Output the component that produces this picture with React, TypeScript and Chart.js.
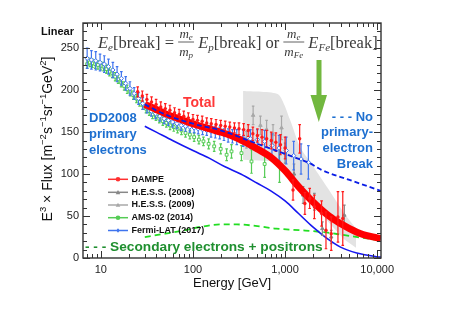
import React, { useEffect, useRef } from "react";
import { Chart, registerables } from "chart.js";

Chart.register(...registerables);

// ---------- axes ----------
const X_MIN = 6.4;
const X_MAX = 11000;
const Y_MIN = 0;
const Y_MAX = 280;
const xTickValues = [10, 100, 1000, 10000];
const xTickLabels = ["10", "100", "1,000", "10,000"];
const yTickValues = [0, 50, 100, 150, 200, 250];

// ---------- data ----------
// AMS-02 (2014)
const amsE = [7.1, 7.6, 8.1, 8.7, 9.3, 10, 10.7, 11.5, 12.4, 13.3, 14.3, 15.4, 16.6, 17.9, 19.3, 20.8, 22.5, 24.3, 26.3, 28.5, 30.9, 33.5, 36.4, 39.6, 43.1, 47, 51.4, 56.3, 61.8, 68, 75, 83, 92.5, 103, 116, 130, 148, 170, 200, 232, 262, 336, 432, 600, 870];
const amsV = [231, 233, 232, 231, 230, 229, 228, 225, 222, 220, 216, 213, 209, 205, 201, 198, 194, 190, 186, 182, 178, 175, 171, 169, 166, 163, 161, 158, 156, 154, 152, 149, 147, 144, 141, 139, 136, 133, 130, 123, 127, 125, 115, 112, 110];
const amsErr = [5, 5, 5, 5, 5, 5, 5, 5, 5, 5, 5, 5, 5, 5, 5, 5, 5, 5, 5, 5, 5, 5, 5, 5, 5, 5, 5, 5, 5, 5, 5, 5, 5, 5, 5, 5, 6, 6, 6, 7, 8, 9, 14, 16, 20];

// Fermi-LAT (2017)
const fermiE = [7.1, 7.9, 8.8, 9.8, 10.9, 12.1, 13.5, 15.0, 16.7, 18.6, 20.7, 23.0, 25.6, 28.5, 31.7, 35.3, 39.3, 43.7, 48.6, 54.1, 60.2, 67.0, 74.5, 82.9, 92.3, 103, 114, 127, 141, 157, 175, 195, 217, 241, 268, 299, 350, 420, 500, 600, 720, 860, 1030, 1240, 1490, 1790];
const fermiV = [238, 236, 235, 233, 231, 228, 224, 219, 214, 208, 202, 196, 190, 184, 179, 175, 172, 169, 166, 164, 162, 160, 158, 157, 156, 155, 154, 153, 152, 151, 150, 149, 147, 146, 145, 144, 143, 142, 141, 139, 134, 131, 128, 122, 118, 114];
const fermiErr = [12, 11, 11, 10, 10, 9, 9, 9, 8, 8, 8, 7, 7, 7, 6, 6, 6, 6, 6, 6, 6, 6, 6, 6, 6, 6, 6, 6, 6, 7, 7, 7, 7, 8, 8, 9, 10, 11, 12, 13, 14, 15, 16, 17, 18, 20];

// DAMPE
const dampeE = [25.1, 28.2, 31.6, 35.5, 39.8, 44.7, 50.1, 56.2, 63.1, 70.8, 79.4, 89.1, 100, 112, 126, 141, 158, 178, 200, 224, 251, 282, 316, 355, 398, 447, 501, 562, 631, 708, 794, 891, 1000, 1220, 1440, 1640, 1850, 2080, 2490, 2780, 3170, 3750, 4230];
const dampeV = [198, 193, 189, 186, 183, 180, 178, 176, 173, 171, 169, 167, 165, 164, 163, 161, 160, 159, 158, 157, 156, 155, 154, 153, 152, 148, 146, 144, 142, 140, 138, 135, 131, 81, 142, 65, 71, 61, 53, 33, 29, 49, 47];
const dampeErr = [6, 6, 6, 6, 6, 6, 6, 6, 6, 6, 6, 6, 6, 6, 6, 6, 6, 6, 6, 6, 6, 6, 7, 7, 7, 8, 8, 9, 10, 10, 11, 12, 13, 12, 17, 13, 12, 14, 15, 22, 20, 30, 32];

// H.E.S.S. (2008)
const hess08E = [1000, 1250, 1570, 2080, 2540, 3170, 4400];
const hess08V = [125, 100, 75, 67, 35, 25, 51];
const hess08Err = [12, 12, 10, 10, 8, 8, 12];

// H.E.S.S. (2009)
const hess09E = [380, 450, 540, 630, 740, 915];
const hess09V = [141, 170, 158, 153, 147, 155];
const hess09Err = [10, 11, 11, 11, 12, 14];

// H.E.S.S. systematic band
const bandE = [350, 840, 1130, 1440, 2000, 3000, 4400, 5900];
const bandUpper = [199, 195, 165, 133, 110, 81, 53, 35];
const bandLower = [117, 115, 100, 85, 65, 42, 22, 12];

// Model curves
const totalE = [30, 40, 50, 70, 100, 150, 200, 300, 400, 500, 700, 1000, 1400, 2000, 3000, 4000, 5000, 7000, 10000, 11000];
const totalV = [183, 177, 172, 166, 160, 154, 150, 143, 136, 130, 120, 104, 85, 67, 50, 41, 35, 28, 24, 23];
const noBreakE = [30, 50, 100, 200, 500, 1000, 1330, 1850, 2480, 5000, 11000];
const noBreakV = [183, 171, 160, 152, 136, 124, 119, 113, 105, 93, 80];
const dd2008E = [30, 40, 60, 100, 150, 220, 330, 500, 700, 1000, 1400, 2000, 2800, 4000, 6000, 10000, 11000];
const dd2008V = [157, 150, 140, 128, 119, 109, 100, 89, 80, 68, 53, 37, 24, 13, 6, 1.5, 1];
const secE = [30, 50, 80, 120, 200, 300, 500, 800, 1500, 2500, 4000, 7000, 11000];
const secV = [25, 29, 33, 37, 40, 40, 38, 35, 33, 31, 28, 24, 21];

// legend
const legendLabels = ["DAMPE", "H.E.S.S. (2008)", "H.E.S.S. (2009)", "AMS-02 (2014)", "Fermi-LAT (2017)"];
const legendColors = ["#ff3030", "#888888", "#a8a8a8", "#55cc55", "#3f74ee"];
const legendMarkers = ["circle", "triangle", "triangle", "circle", "diamond"];

// ---------- helpers ----------
const pts = (xs: number[], ys: number[]) => xs.map((x, i) => ({ x, y: ys[i] }));
const SANS = '"Liberation Sans", Arial, Helvetica, sans-serif';
const SERIF = '"Liberation Serif", "DejaVu Serif", "Times New Roman", serif';

type Seg = { t: string; font: string; dy?: number };

function segWidth(ctx: CanvasRenderingContext2D, segs: Seg[]) {
  let w = 0;
  for (const s of segs) {
    ctx.font = s.font;
    w += ctx.measureText(s.t).width;
  }
  return w;
}
function drawSegs(ctx: CanvasRenderingContext2D, segs: Seg[], x: number, y: number) {
  let cx = x;
  for (const s of segs) {
    ctx.font = s.font;
    ctx.fillText(s.t, cx, y + (s.dy || 0));
    cx += ctx.measureText(s.t).width;
  }
  return cx;
}

function drawMarker(ctx: CanvasRenderingContext2D, kind: string, x: number, y: number, r: number, color: string) {
  ctx.beginPath();
  if (kind === "circle") ctx.arc(x, y, r, 0, Math.PI * 2);
  else if (kind === "triangle") {
    ctx.moveTo(x, y - r);
    ctx.lineTo(x + r, y + r * 0.8);
    ctx.lineTo(x - r, y + r * 0.8);
    ctx.closePath();
  } else {
    ctx.moveTo(x, y - r);
    ctx.lineTo(x + r * 0.7, y);
    ctx.lineTo(x, y + r);
    ctx.lineTo(x - r * 0.7, y);
    ctx.closePath();
  }
  ctx.fillStyle = color;
  ctx.fill();
}

// error bars drawn before each dataset's markers
const errorBarPlugin = {
  id: "errorBars",
  beforeDatasetDraw(chart: any, args: any) {
    const ds = chart.data.datasets[args.index];
    if (!ds.errs) return;
    const meta = chart.getDatasetMeta(args.index);
    const y = chart.scales.y;
    const ctx = chart.ctx;
    ctx.save();
    ctx.beginPath();
    ctx.rect(chart.chartArea.left, chart.chartArea.top, chart.chartArea.right - chart.chartArea.left, chart.chartArea.bottom - chart.chartArea.top);
    ctx.clip();
    ctx.strokeStyle = ds.errColor || ds.borderColor;
    ctx.lineWidth = 1.2;
    meta.data.forEach((el: any, i: number) => {
      const v = ds.data[i].y;
      const e = ds.errs[i];
      const y1 = y.getPixelForValue(v + e);
      const y2 = y.getPixelForValue(v - e);
      ctx.beginPath();
      ctx.moveTo(el.x, y1);
      ctx.lineTo(el.x, y2);
      ctx.moveTo(el.x - 1.3, y1);
      ctx.lineTo(el.x + 1.3, y1);
      ctx.moveTo(el.x - 1.3, y2);
      ctx.lineTo(el.x + 1.3, y2);
      ctx.stroke();
    });
    ctx.restore();
  },
};

const framePlugin = {
  id: "frameAndText",
  afterDraw(chart: any) {
    const ctx: CanvasRenderingContext2D = chart.ctx;
    const { left, right, top, bottom } = chart.chartArea;
    const xs = chart.scales.x;
    const ys = chart.scales.y;
    ctx.save();
    // frame
    ctx.strokeStyle = "#333";
    ctx.lineWidth = 1.4;
    ctx.strokeRect(left, top, right - left, bottom - top);
    ctx.lineWidth = 1;
    ctx.beginPath();
    // x ticks (log, inward on bottom and top)
    for (let p = 0; p <= 4; p++) {
      for (let m = 1; m <= 9; m++) {
        const v = m * Math.pow(10, p);
        if (v < X_MIN || v > X_MAX) continue;
        const px = Math.round(xs.getPixelForValue(v)) + 0.5;
        const len = m === 1 ? 7 : 4;
        ctx.moveTo(px, bottom);
        ctx.lineTo(px, bottom - len);
        ctx.moveTo(px, top);
        ctx.lineTo(px, top + len);
      }
    }
    // y ticks (inward on left and right)
    for (let v = Y_MIN; v <= Y_MAX; v += 10) {
      const py = Math.round(ys.getPixelForValue(v)) + 0.5;
      const len = v % 50 === 0 ? 7 : 4;
      ctx.moveTo(left, py);
      ctx.lineTo(left + len, py);
      ctx.moveTo(right, py);
      ctx.lineTo(right - len, py);
    }
    ctx.stroke();

    // "Linear"
    ctx.fillStyle = "#111";
    ctx.textBaseline = "alphabetic";
    ctx.textAlign = "left";
    ctx.font = `bold 11px ${SANS}`;
    ctx.fillText("Linear", 41, 35);

    // y-axis title (rotated, with superscripts)
    const base = `14px ${SANS}`;
    const sup = `9.5px ${SANS}`;
    const ysegs: Seg[] = [
      { t: "E", font: base },
      { t: "3", font: sup, dy: -6 },
      { t: " \u00d7 Flux [m", font: base },
      { t: "\u22122", font: sup, dy: -6 },
      { t: "s", font: base },
      { t: "\u22121", font: sup, dy: -6 },
      { t: "sr", font: base },
      { t: "\u22121", font: sup, dy: -6 },
      { t: "GeV", font: base },
      { t: "2", font: sup, dy: -6 },
      { t: "]", font: base },
    ];
    ctx.save();
    ctx.translate(52, 139);
    ctx.rotate(-Math.PI / 2);
    ctx.fillStyle = "#111";
    const yw = segWidth(ctx, ysegs);
    drawSegs(ctx, ysegs, -yw / 2, 0);
    ctx.restore();

    // x-axis title
    ctx.font = `13px ${SANS}`;
    ctx.textAlign = "center";
    ctx.fillStyle = "#111";
    ctx.fillText("Energy [GeV]", (left + right) / 2, 287);
    ctx.textAlign = "left";

    // formula
    const it = `italic 16.5px ${SERIF}`;
    const rm = `16.5px ${SERIF}`;
    const sub = `italic 11px ${SERIF}`;
    const fit = `italic 13px ${SERIF}`;
    const fsub = `italic 9px ${SERIF}`;
    ctx.fillStyle = "#3a3a3a";
    ctx.strokeStyle = "#3a3a3a";
    const by = 48;
    let cx = 98;
    const frac = (num: Seg[], den: Seg[]) => {
      const nw = segWidth(ctx, num);
      const dw = segWidth(ctx, den);
      const w = Math.max(nw, dw) + 2;
      drawSegs(ctx, num, cx + (w - nw) / 2, by - 10);
      drawSegs(ctx, den, cx + (w - dw) / 2, by + 8);
      ctx.lineWidth = 0.8;
      ctx.beginPath();
      ctx.moveTo(cx, by - 6);
      ctx.lineTo(cx + w, by - 6);
      ctx.stroke();
      cx += w;
    };
    cx = drawSegs(ctx, [{ t: "E", font: it }, { t: "e", font: sub, dy: 3 }, { t: "[break] = ", font: rm }], cx, by);
    frac([{ t: "m", font: fit }, { t: "e", font: fsub, dy: 2 }], [{ t: "m", font: fit }, { t: "p", font: fsub, dy: 2 }]);
    cx = drawSegs(ctx, [{ t: " E", font: it }, { t: "p", font: sub, dy: 3 }, { t: "[break] or ", font: rm }], cx, by);
    frac([{ t: "m", font: fit }, { t: "e", font: fsub, dy: 2 }], [{ t: "m", font: fit }, { t: "Fe", font: fsub, dy: 2 }]);
    cx = drawSegs(ctx, [{ t: " E", font: it }, { t: "Fe", font: sub, dy: 3 }, { t: "[break]", font: rm }], cx, by);

    // green arrow
    ctx.fillStyle = "#72b83f";
    ctx.beginPath();
    ctx.moveTo(316.5, 60);
    ctx.lineTo(321.5, 60);
    ctx.lineTo(321.5, 95);
    ctx.lineTo(327, 95);
    ctx.lineTo(318.8, 122);
    ctx.lineTo(310.5, 95);
    ctx.lineTo(316.5, 95);
    ctx.closePath();
    ctx.fill();

    // annotations
    ctx.textBaseline = "middle";
    ctx.font = `bold 14px ${SANS}`;
    ctx.fillStyle = "#ff3838";
    ctx.fillText("Total", 183, 103);

    ctx.font = `bold 13px ${SANS}`;
    ctx.fillStyle = "#1d6fd0";
    ctx.fillText("DD2008", 89, 118);
    ctx.fillText("primary", 89, 134);
    ctx.fillText("electrons", 89, 150);

    ctx.textAlign = "right";
    ctx.fillText("- - - No", 373, 117);
    ctx.fillText("primary-", 373, 132);
    ctx.fillText("electron", 373, 148);
    ctx.fillText("Break", 373, 164);
    ctx.textAlign = "left";

    ctx.fillStyle = "#1f8f2f";
    ctx.font = `bold 13.7px ${SANS}`;
    ctx.fillText("- - - Secondary electrons + positrons", 85, 247);

    // legend
    const rowY = [179.3, 192.3, 205, 217.7, 230.5];
    ctx.font = `bold 9px ${SANS}`;
    legendLabels.forEach((lab, i) => {
      const yy = rowY[i];
      ctx.strokeStyle = legendColors[i];
      ctx.lineWidth = 1.5;
      ctx.beginPath();
      ctx.moveTo(108, yy);
      ctx.lineTo(128, yy);
      ctx.stroke();
      drawMarker(ctx, legendMarkers[i], 118, yy, 2.3, legendColors[i]);
      ctx.fillStyle = "#111";
      ctx.fillText(lab, 131.5, yy);
    });
    ctx.restore();
  },
};

export default function App() {
  const ref = useRef<HTMLCanvasElement>(null);
  useEffect(() => {
    const lineDs = (label: string, xs: number[], ys: number[], color: string, width: number, order: number, dash: number[] = []) => ({
      label,
      data: pts(xs, ys),
      borderColor: color,
      backgroundColor: color,
      borderWidth: width,
      borderDash: dash,
      pointRadius: 0,
      showLine: true,
      tension: 0.4,
      cubicInterpolationMode: "monotone",
      fill: false,
      order,
    });
    const pointDs = (label: string, xs: number[], ys: number[], errs: number[], color: string, style: string, fillC: string, r: number, bw: number, order: number) => ({
      label,
      data: pts(xs, ys),
      errs,
      errColor: color,
      borderColor: color,
      backgroundColor: fillC,
      pointStyle: style,
      pointRadius: r,
      pointBorderWidth: bw,
      showLine: false,
      order,
    });
    const datasets: any[] = [
      // 0 band lower
      { label: "bandLo", data: pts(bandE, bandLower), borderWidth: 0, borderColor: "rgba(0,0,0,0)", pointRadius: 0, showLine: true, fill: false, order: 20 },
      // 1 band upper
      { label: "bandHi", data: pts(bandE, bandUpper), borderWidth: 0, borderColor: "rgba(0,0,0,0)", backgroundColor: "#e3e3e3", pointRadius: 0, showLine: true, tension: 0.2, fill: 0, order: 19 },
      lineDs("Secondary", secE, secV, "#22dd22", 1.8, 10, [6, 4]),
      lineDs("DD2008", dd2008E, dd2008V, "#1616f0", 1.6, 9),
      pointDs("AMS-02 (2014)", amsE, amsV, amsErr, "#55cc55", "rect", "#ffffff", 2, 1, 8),
      pointDs("H.E.S.S. (2009)", hess09E, hess09V, hess09Err, "#a8a8a8", "triangle", "#a8a8a8", 2, 1, 7),
      pointDs("H.E.S.S. (2008)", hess08E, hess08V, hess08Err, "#888888", "triangle", "#888888", 2, 1, 6),
      pointDs("Fermi-LAT (2017)", fermiE, fermiV, fermiErr, "#3f74ee", "rectRot", "#ffffff", 2.2, 1, 5),
      lineDs("Total", totalE, totalV, "#ff0000", 7, 4),
      pointDs("DAMPE", dampeE, dampeV, dampeErr, "#ff1a1a", "circle", "#ff1a1a", 1.7, 0, 3),
      lineDs("No break", noBreakE, noBreakV, "#0a1ee6", 1.8, 2, [5, 3]),
    ];
    const chart = new Chart(ref.current as HTMLCanvasElement, {
      type: "line",
      data: { datasets },
      options: {
        responsive: false,
        animation: false,
        devicePixelRatio: 1,
        layout: { padding: { left: 0, right: 68, top: 23, bottom: 0 } },
        plugins: { legend: { display: false }, tooltip: { enabled: false }, title: { display: false } },
        scales: {
          x: {
            type: "logarithmic",
            min: X_MIN,
            max: X_MAX,
            grid: { display: false, drawTicks: false },
            border: { display: false },
            afterBuildTicks: (s: any) => {
              s.ticks = xTickValues.map((v) => ({ value: v }));
            },
            afterFit: (s: any) => {
              s.height = 78;
            },
            ticks: {
              autoSkip: false,
              maxRotation: 0,
              padding: 5,
              color: "#222",
              font: { family: SANS, size: 11 },
              callback: (_v: any, i: number) => xTickLabels[i],
            },
          },
          y: {
            type: "linear",
            min: Y_MIN,
            max: Y_MAX,
            grid: { display: false, drawTicks: false },
            border: { display: false },
            afterBuildTicks: (s: any) => {
              s.ticks = yTickValues.map((v) => ({ value: v }));
            },
            afterFit: (s: any) => {
              s.width = 83;
            },
            ticks: {
              padding: 4,
              color: "#222",
              font: { family: SANS, size: 11 },
              callback: (v: any) => String(v),
            },
          },
        },
      },
      plugins: [errorBarPlugin, framePlugin],
    } as any);
    return () => chart.destroy();
  }, []);
  return (
    <div style={{ position: "fixed", left: 0, top: 0, width: 449, height: 336, background: "#fff" }}>
      <canvas ref={ref} width={449} height={336} style={{ width: 449, height: 336, display: "block" }} />
    </div>
  );
}
